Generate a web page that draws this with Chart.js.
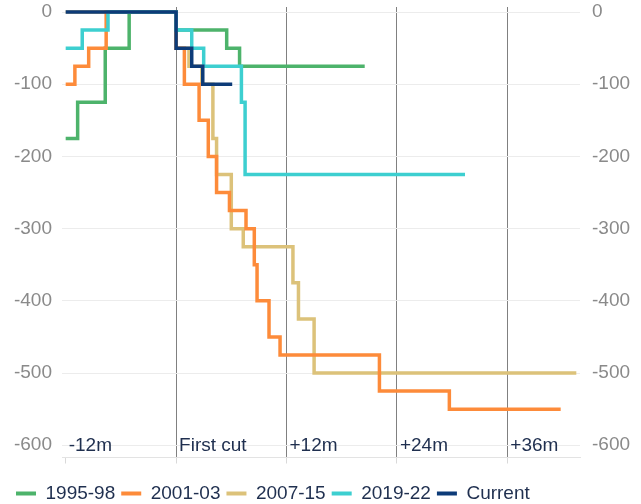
<!DOCTYPE html>
<html>
<head>
<meta charset="utf-8">
<script src="https://cdn.jsdelivr.net/npm/chart.js@4.4.1/dist/chart.umd.min.js"></script>
<style>
  body { margin: 0; background: #fff; }
</style>
</head>
<body>
<canvas id="myChart" width="641" height="504"></canvas>
<script>
// months relative to first cut, cumulative change in bp
const months95 = [-12, -10.7, -7.7, -5.1, 0, 5.5, 6.9, 20.5];
const cuts95   = [-175, -125, -50, 0, -25, -50, -75, -75];

const months01 = [-12, -11.0, -9.5, -7.6, 0, 0.9, 2.5, 3.5, 4.4, 5.8, 7.6, 8.5, 8.8, 10.1, 11.3, 22.1, 29.7, 41.8];
const cuts01   = [-100, -75, -50, 0, -50, -100, -150, -200, -250, -275, -300, -350, -400, -450, -475, -525, -550, -550];

const months07 = [-12, 0, 1.4, 2.8, 4.0, 4.4, 6.0, 7.3, 12.7, 13.3, 15.0, 43.5];
const cuts07   = [0, -50, -75, -100, -175, -225, -300, -325, -375, -425, -500, -500];

const months19 = [-12, -10.2, -7.4, 0, 1.7, 3.0, 7.1, 7.5, 31.4];
const cuts19   = [-50, -25, 0, -25, -50, -75, -125, -225, -225];

const monthsNow = [-12, 0, 1.7, 2.9, 6.1];
const cutsNow   = [0, -50, -75, -100, -100];

const seriesNames = ['1995-98', '2001-03', '2007-15', '2019-22', 'Current'];
const monthTicks = [-12, 0, 12, 24, 36];
const monthLabels = ['-12m', 'First cut', '+12m', '+24m', '+36m'];
const bpTicks = [0, -100, -200, -300, -400, -500, -600];

function pts(xs, ys) {
    return xs.map((x, i) => ({x: x, y: ys[i]}));
}

function series(name, xs, ys, color, order) {
    return {
        label: name,
        data: pts(xs, ys),
        borderColor: color,
        backgroundColor: color,
        borderWidth: 3.5,
        pointRadius: 0,
        stepped: true,
        order: order
    };
}

Chart.defaults.font.family = '"Liberation Sans", Arial, sans-serif';

// x labels sit inside the plot, just right of each line
const monthLabelPlugin = {
    id: 'monthLabels',
    afterDraw(chart) {
        const ctx = chart.ctx;
        const xs = chart.scales.x;
        ctx.save();
        ctx.font = '19px "Liberation Sans", Arial, sans-serif';
        ctx.fillStyle = '#1f2f4f';
        ctx.textAlign = 'left';
        ctx.textBaseline = 'alphabetic';
        monthTicks.forEach((m, i) => {
            ctx.fillText(monthLabels[i], xs.getPixelForValue(m) + 3, chart.chartArea.bottom - 7);
        });
        ctx.restore();
    }
};

const legendNudge = {
    id: 'legendNudge',
    beforeInit(chart) {
        const fit = chart.legend.fit;
        chart.legend.fit = function () {
            fit.call(this);
            this.height -= 9;
        };
    }
};

function noPad(scale) {
    scale.paddingTop = 0;
    scale.paddingBottom = 0;
}

const ctx = document.getElementById('myChart').getContext('2d');
const myChart = new Chart(ctx, {
    type: 'line',
    data: {
        datasets: [
            series(seriesNames[0], months95, cuts95, '#4db36b', 5),
            series(seriesNames[1], months01, cuts01, '#fd8b3a', 3),
            series(seriesNames[2], months07, cuts07, '#dcc27a', 4),
            series(seriesNames[3], months19, cuts19, '#3dcfd0', 2),
            series(seriesNames[4], monthsNow, cutsNow, '#0d3b78', 1)
        ]
    },
    options: {
        responsive: false,
        animation: false,
        layout: {padding: {left: 10, right: 8, top: 7, bottom: 0}},
        plugins: {
            tooltip: {enabled: false},
            legend: {
                position: 'bottom',
                align: 'start',
                labels: {
                    boxWidth: 20,
                    boxHeight: 4,
                    padding: 6,
                    color: '#1f2f4f',
                    font: {size: 19},
                    sort: (a, b) => a.datasetIndex - b.datasetIndex,
                    generateLabels(chart) {
                        return Chart.defaults.plugins.legend.labels.generateLabels(chart)
                            .map(l => Object.assign(l, {lineWidth: 0}));
                    }
                }
            }
        },
        scales: {
            x: {
                type: 'linear',
                min: -12.4,
                max: 43.9,
                z: 1,
                afterBuildTicks(scale) {
                    scale.ticks = monthTicks.map(v => ({value: v}));
                },
                afterFit(scale) {
                    scale.height = 20.5;
                },
                ticks: {display: false},
                grid: {
                    color: c => (c.tick && c.tick.value === -12) ? 'rgba(0,0,0,0)' : '#808080',
                    tickColor: '#d9d9d9',
                    tickLength: 6,
                    lineWidth: 1
                },
                border: {display: true, color: '#e3e3e3'}
            },
            y: {
                position: 'left',
                min: -617,
                max: 7,
                afterBuildTicks(scale) {
                    scale.ticks = bpTicks.map(v => ({value: v}));
                },
                afterFit(scale) {
                    scale.width = 52;
                    noPad(scale);
                },
                ticks: {color: '#8a8a8a', padding: 10, font: {size: 19}},
                grid: {color: '#ececec', drawTicks: false},
                border: {display: false}
            },
            y2: {
                position: 'right',
                min: -617,
                max: 7,
                afterBuildTicks(scale) {
                    scale.ticks = bpTicks.map(v => ({value: v}));
                },
                afterFit(scale) {
                    scale.width = 53;
                    noPad(scale);
                },
                ticks: {color: '#8a8a8a', padding: 12, font: {size: 19}},
                grid: {display: false, drawTicks: false},
                border: {display: false}
            }
        }
    },
    plugins: [monthLabelPlugin, legendNudge]
});
</script>
</body>
</html>
